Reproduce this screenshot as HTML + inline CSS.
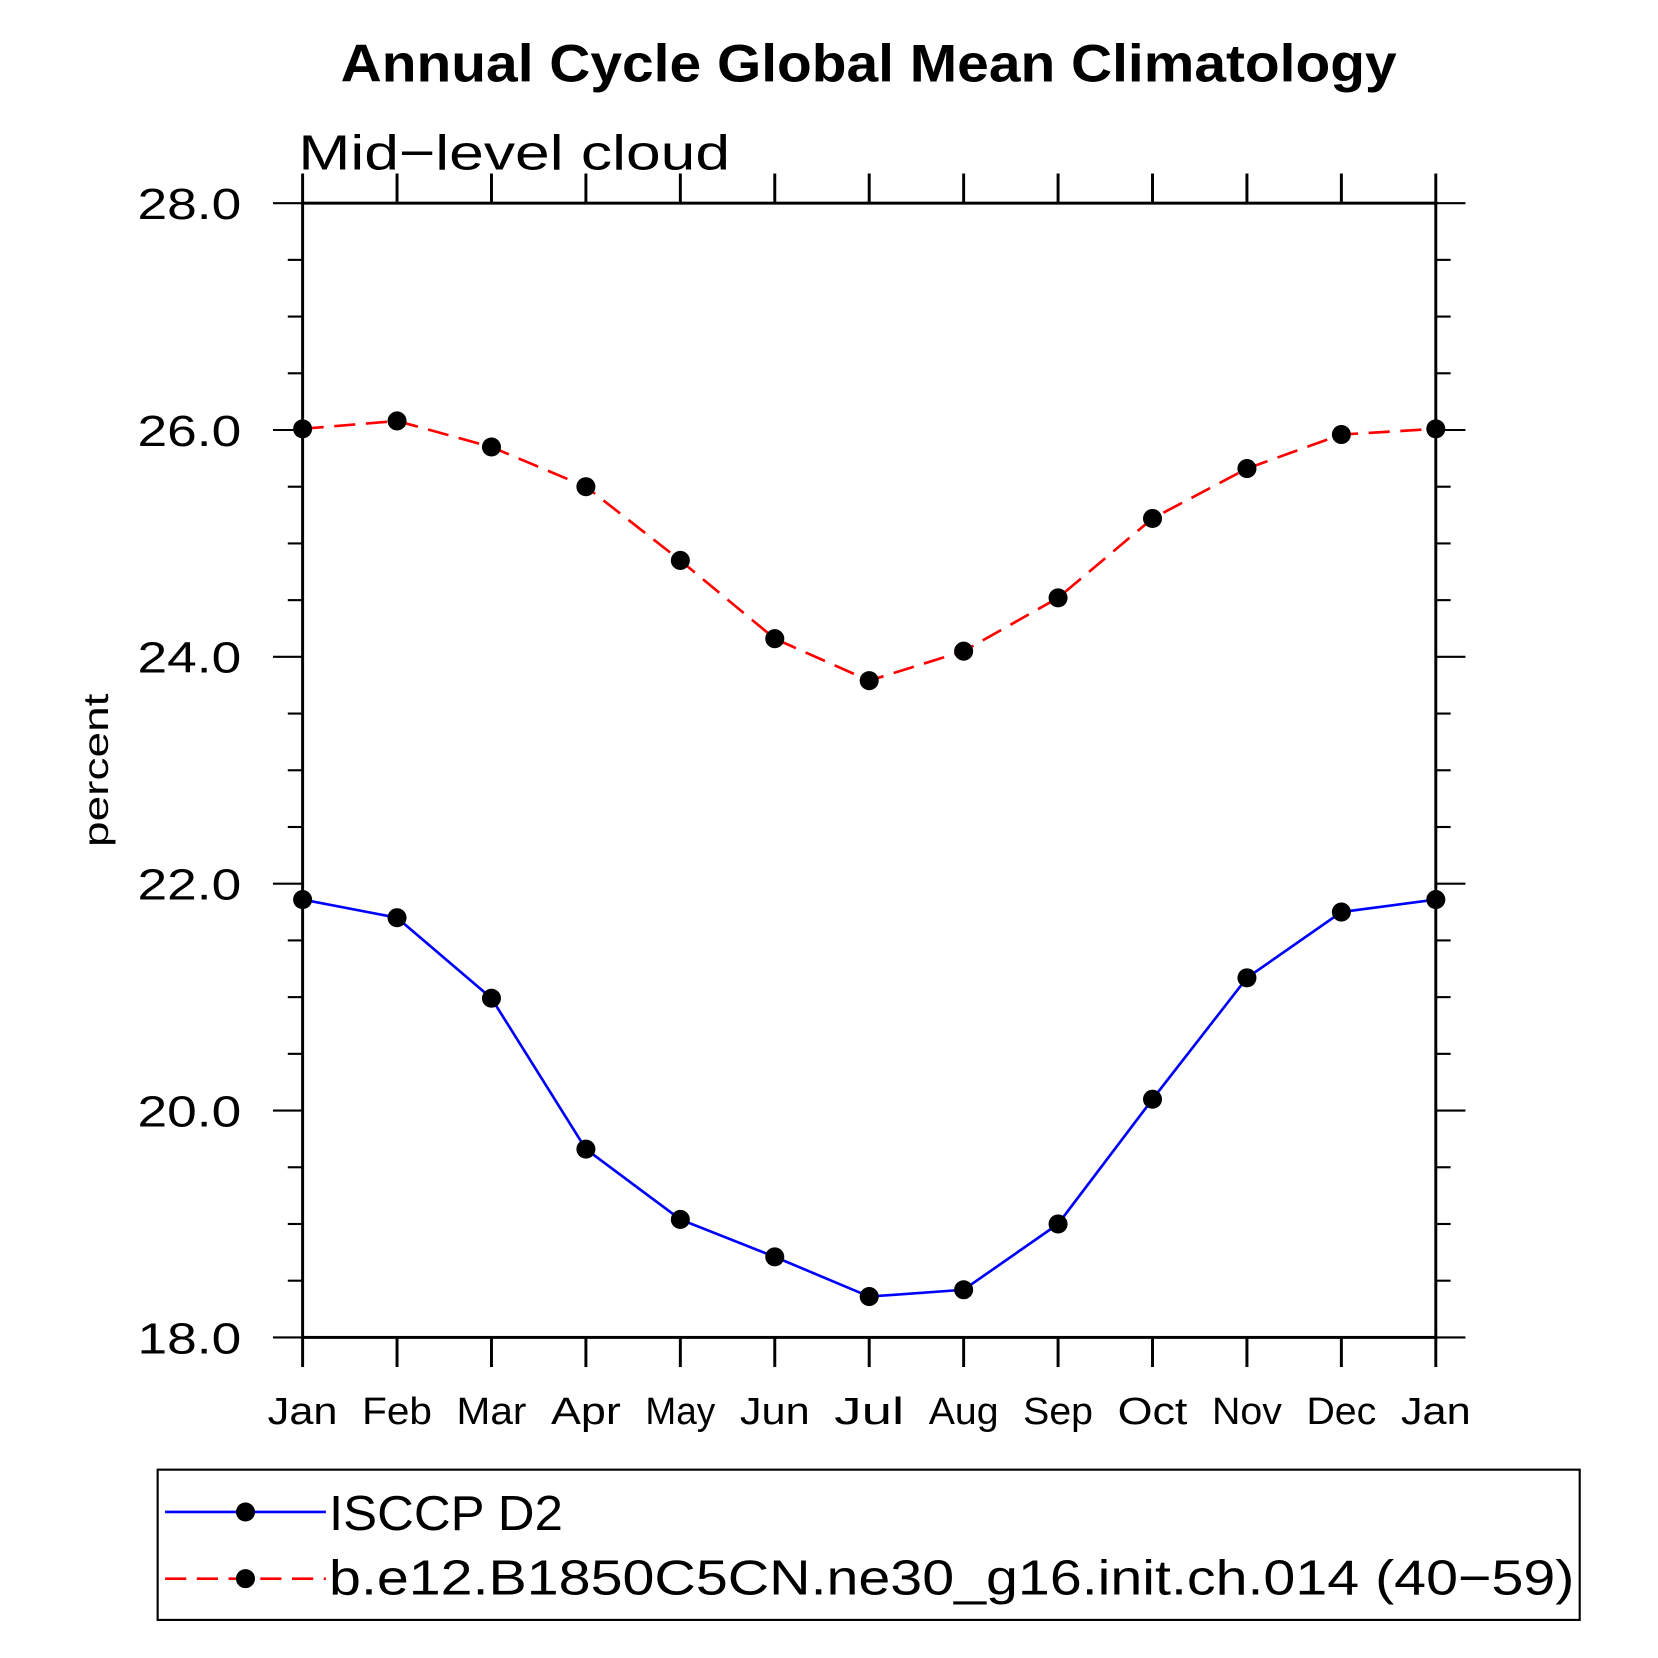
<!DOCTYPE html>
<html><head><meta charset="utf-8"><style>
html,body{margin:0;padding:0;background:#fff}
svg{display:block}
text{font-family:"Liberation Sans",sans-serif}
</style></head><body>
<svg id="chart" width="1658" height="1658" viewBox="0 0 1567 1567" xmlns="http://www.w3.org/2000/svg">
<text x="322" y="77" font-size="50" font-weight="bold" textLength="998" lengthAdjust="spacingAndGlyphs">Annual Cycle Global Mean Climatology</text>
<text x="282" y="160" font-size="46" fill="#000" textLength="408" lengthAdjust="spacingAndGlyphs">Mid−level cloud</text>
<text transform="translate(102,728) rotate(-90)" text-anchor="middle" font-size="33" textLength="145" lengthAdjust="spacingAndGlyphs">percent</text>
<g id="axes"></g>
<g id="series"></g>
<rect x="149" y="1389" width="1344" height="142" fill="none" stroke="#000" stroke-width="2"/>
<g>
<line x1="156" y1="1429" x2="308" y2="1429" stroke="#00f" stroke-width="2.5"/>
<circle cx="232" cy="1429" r="9"/>
<text x="311" y="1446" font-size="46" textLength="221" lengthAdjust="spacingAndGlyphs">ISCCP D2</text>
</g>
<g>
<line x1="156" y1="1492" x2="308" y2="1492" stroke="#f00" stroke-width="2.5" stroke-dasharray="20,10"/>
<circle cx="232" cy="1492" r="9"/>
<text x="311" y="1507" font-size="46" textLength="1177" lengthAdjust="spacingAndGlyphs">b.e12.B1850C5CN.ne30_g16.init.ch.014 (40−59)</text>
</g>
</svg>
<script>
const months = ["Jan","Feb","Mar","Apr","May","Jun","Jul","Aug","Sep","Oct","Nov","Dec","Jan"];
const isccp = [21.86,21.70,20.99,19.66,19.04,18.71,18.36,18.42,19.00,20.10,21.17,21.75,21.86];
const model = [26.01,26.08,25.85,25.50,24.85,24.16,23.79,24.05,24.52,25.22,25.66,25.96,26.01];
const yTicks = [18,20,22,24,26,28];
const yTickLabels = ["18.0","20.0","22.0","24.0","26.0","28.0"];

const L=286,R=1357,T=192,B=1264,yMin=18,yMax=28;
const NS="http://www.w3.org/2000/svg";
const xS=i=>L+i*(R-L)/(months.length-1);
const yS=v=>B-(v-yMin)/(yMax-yMin)*(B-T);
const axes=document.getElementById('axes'), ser=document.getElementById('series');
function mk(tag,attrs,parent){const e=document.createElementNS(NS,tag);for(const k in attrs)e.setAttribute(k,attrs[k]);parent.appendChild(e);return e;}
let f=mk('rect',{x:L,y:T,width:R-L,height:B-T,fill:'none',stroke:'#000','stroke-width':2.8},axes);


months.forEach((m,i)=>{
  const x=xS(i);
  let t=mk('line',{x1:x,y1:B,x2:x,y2:B+28,stroke:'#000','stroke-width':2.8},axes);
  
  
  let t2=mk('line',{x1:x,y1:T,x2:x,y2:T-28,stroke:'#000','stroke-width':2.8},axes);
  
  
  let lb=mk('text',{x:x,y:B+82,'text-anchor':'middle','font-size':36,textLength:m.length*22,lengthAdjust:'spacingAndGlyphs'},axes);
  lb.textContent=m;
  
  
});
for(let v=yMin;v<=yMax+1e-9;v+=0.5){
  const major=yTicks.some(t=>Math.abs(t-v)<1e-9);
  const len=major?28:14, y=yS(v);
  let a=mk('line',{x1:L,y1:y,x2:L-len,y2:y,stroke:'#000','stroke-width':2},axes);
  
  
  let b=mk('line',{x1:R,y1:y,x2:R+len,y2:y,stroke:'#000','stroke-width':2},axes);
  
  
}
yTicks.forEach((v,i)=>{
  let lb=mk('text',{x:130,y:yS(v)+15,'font-size':41,textLength:98,lengthAdjust:'spacingAndGlyphs'},axes);
  lb.textContent=yTickLabels[i];
  
  
});
function drawSeries(vals,color,dash,name){
  const pts=vals.map((v,i)=>xS(i)+','+yS(v)).join(' ');
  let pl=mk('polyline',{points:pts,fill:'none',stroke:color,'stroke-width':2.5},ser);
  if(dash)pl.setAttribute('stroke-dasharray',dash);
  
  
  vals.forEach((v,i)=>{
    let c=mk('circle',{cx:xS(i),cy:yS(v),r:9,fill:'#000'},ser);
    
    
  });
}
drawSeries(model,'#f00','20,10','model');
drawSeries(isccp,'#00f',null,'isccp');
</script>
</body></html>
